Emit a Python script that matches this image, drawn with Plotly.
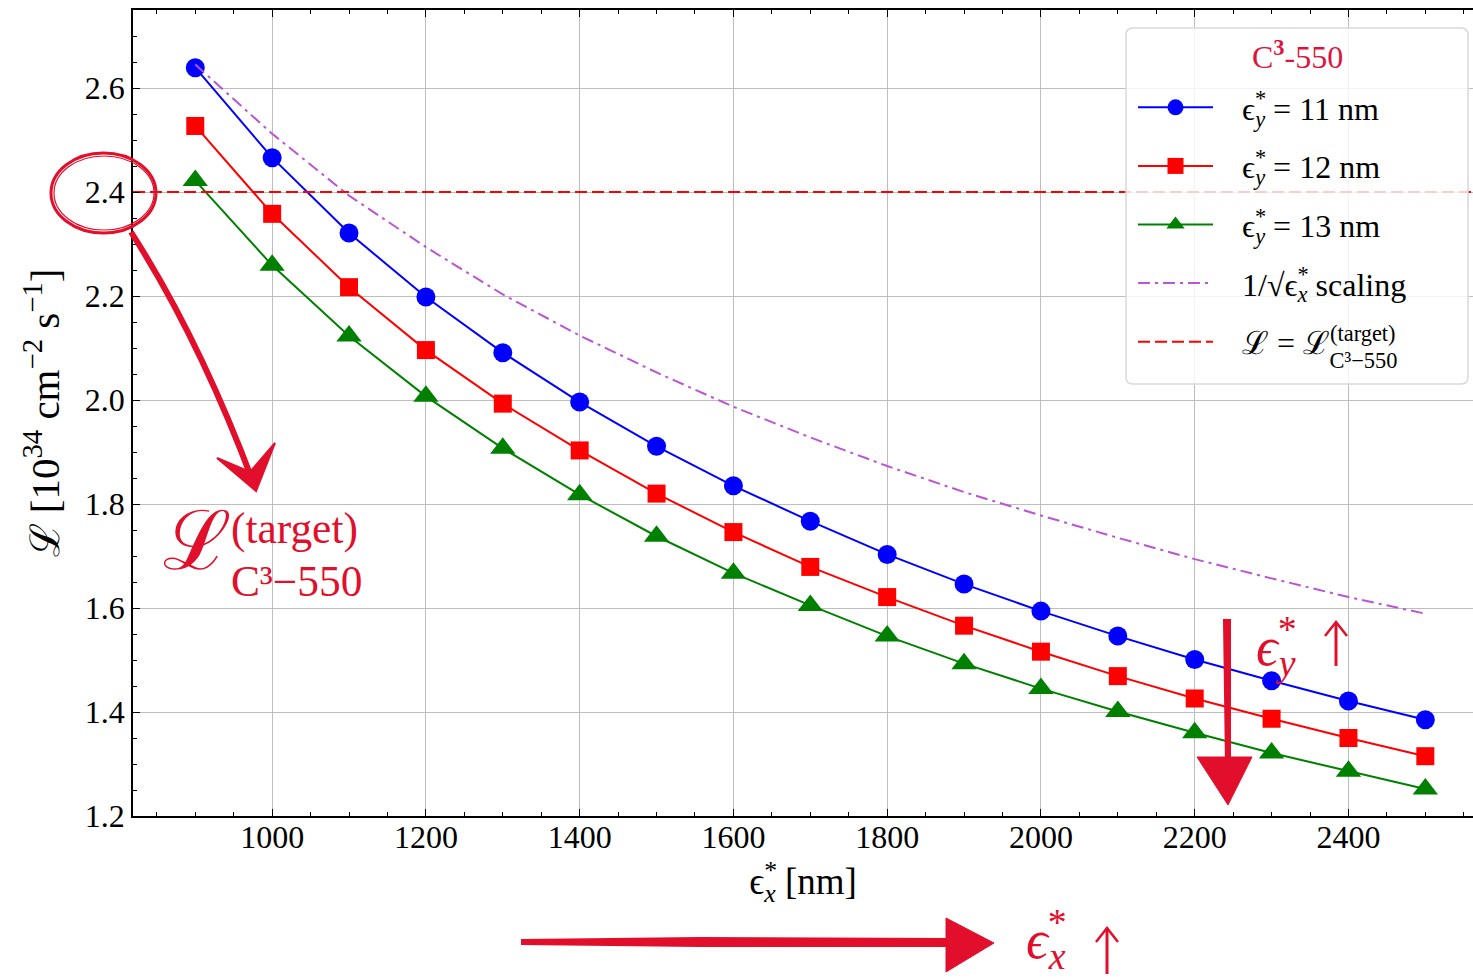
import plotly.graph_objects as go

# Horizontal emittance scan [nm]
EPS_X = [900, 1000, 1100, 1200, 1300, 1400, 1500, 1600, 1700,
         1800, 1900, 2000, 2100, 2200, 2300, 2400, 2500]

# Luminosity [1e34 cm^-2 s^-1] for three vertical emittances
LUMI_11 = [2.639, 2.466, 2.321, 2.198, 2.091, 1.996, 1.911, 1.835, 1.767,
           1.703, 1.646, 1.594, 1.546, 1.501, 1.460, 1.421, 1.385]
LUMI_12 = [2.527, 2.358, 2.217, 2.096, 1.993, 1.903, 1.820, 1.746, 1.679,
           1.621, 1.566, 1.516, 1.469, 1.426, 1.387, 1.350, 1.315]
LUMI_13 = [2.422, 2.259, 2.123, 2.007, 1.907, 1.818, 1.738, 1.667, 1.605,
           1.546, 1.493, 1.445, 1.401, 1.360, 1.321, 1.286, 1.252]

# Reference 1/sqrt(eps_x) trend
SCALING = [2.645, 2.512, 2.393, 2.294, 2.203, 2.124, 2.053, 1.987, 1.928,
           1.873, 1.823, 1.778, 1.735, 1.694, 1.657, 1.621, 1.589]

TARGET_LUMI = 2.4

X_TICKS = [1000, 1200, 1400, 1600, 1800, 2000, 2200, 2400]
Y_TICKS = [1.2, 1.4, 1.6, 1.8, 2.0, 2.2, 2.4, 2.6]
X_RANGE = [819, 2562]
Y_RANGE = [1.2, 2.75]

SERIF = "Liberation Serif"
INK = "#e10f2b"
W, H = 1473, 978
L, R, T, B = 133, 0, 10, 162
PAD = "\u00a0\u00a0\u00a0"


def px(x):
    return (x - L) / (W - L - R)


def py(y):
    return (H - B - y) / (H - B - T)


def path(points, close=False):
    s = "M " + " L ".join(f"{px(x):.5f},{py(y):.5f}" for x, y in points)
    return s + (" Z" if close else "")


def rounded_box(x0, y0, x1, y1, r):
    return (f"M {px(x0 + r):.5f},{py(y0):.5f} L {px(x1 - r):.5f},{py(y0):.5f} "
            f"Q {px(x1):.5f},{py(y0):.5f} {px(x1):.5f},{py(y0 + r):.5f} "
            f"L {px(x1):.5f},{py(y1 - r):.5f} "
            f"Q {px(x1):.5f},{py(y1):.5f} {px(x1 - r):.5f},{py(y1):.5f} "
            f"L {px(x0 + r):.5f},{py(y1):.5f} "
            f"Q {px(x0):.5f},{py(y1):.5f} {px(x0):.5f},{py(y1 - r):.5f} "
            f"L {px(x0):.5f},{py(y0 + r):.5f} "
            f"Q {px(x0):.5f},{py(y0):.5f} {px(x0 + r):.5f},{py(y0):.5f} Z")


def stacked(base, sup, sub, back, italic_sub=True, drop=0):
    """base with a superscript stacked over a subscript: the last superscript
    glyph gets a negative letter-spacing that walks the pen back to its start."""
    s = f"<i>{sub}</i>" if italic_sub else sub
    if drop:
        s = f"<span style='baseline-shift:-{drop}px'>{s}</span>"
    return (f"{base}<sup>{sup[:-1]}<span style='letter-spacing:-{back}px'>{sup[-1]}</span></sup>"
            f"<sub>{s}</sub>")


fig = go.Figure()

eps_y = stacked("ϵ", "*", "y", 11)
series = [
    (eps_y + " = 11 nm", LUMI_11, "#0000ff", "circle", 19),
    (eps_y + " = 12 nm", LUMI_12, "#ff0000", "square", 18),
    (eps_y + " = 13 nm", LUMI_13, "#008000", "triangle-up", 22),
]
for i, (name, vals, color, sym, size) in enumerate(series):
    fig.add_trace(go.Scatter(
        x=EPS_X, y=vals, name=PAD + name, mode="lines+markers",
        line=dict(color=color, width=2),
        marker=dict(symbol=sym, size=size, color=color, line=dict(width=0)),
        legendgroup=f"g{i}",
    ))

fig.add_trace(go.Scatter(
    x=EPS_X, y=SCALING, name=PAD + "1/√" + stacked("ϵ", "*", "x", 11) + " scaling",
    mode="lines", line=dict(color="#ba55d3", width=2, dash="12px,5px,3px,5px"),
    legendgroup="g3",
))
fig.add_trace(go.Scatter(
    x=X_RANGE, y=[TARGET_LUMI, TARGET_LUMI],
    name=PAD + "ℒ = " + stacked("ℒ", "(target)", "C³−550", 66, italic_sub=False, drop=7),
    mode="lines", line=dict(color="#ff0000", width=2, dash="12px,5px"),
    legendgroup="g4",
))

axis_common = dict(
    showline=True, linecolor="black", linewidth=1.5,
    ticks="inside", ticklen=7, tickwidth=1.2, tickcolor="black",
    showgrid=True, gridcolor="#bdbdbd", gridwidth=1,
    zeroline=False,
    tickfont=dict(family=SERIF, size=32, color="black"),
)

fig.update_xaxes(
    **axis_common, range=X_RANGE, tickvals=X_TICKS, mirror="ticks",
    ticklabelstandoff=-8,
    minor=dict(dtick=50, ticks="inside", ticklen=4, tickcolor="black", showgrid=False),
    title=dict(text=stacked("ϵ", "*", "x", 13) + " [nm]",
               font=dict(family=SERIF, size=37, color="black"), standoff=14),
)
fig.update_yaxes(
    **axis_common, range=Y_RANGE, tickvals=Y_TICKS, tickformat=".1f",
    minor=dict(dtick=0.05, ticks="inside", ticklen=4, tickcolor="black", showgrid=False),
    title=dict(text="ℒ [10<sup>34</sup> cm<sup>−2</sup> s<sup>−1</sup>]",
               font=dict(family=SERIF, size=41, color="black"), standoff=12),
)

shapes = []
# translucent legend frame
shapes.append(dict(type="path", xref="paper", yref="paper", layer="above",
                   path=rounded_box(1126, 28, 1468, 384, 7),
                   fillcolor="rgba(255,255,255,0.8)", line=dict(color="#d9d9d9", width=1.5)))
# ring around the target tick
shapes.append(dict(type="circle", xref="paper", yref="paper",
                   x0=px(51), x1=px(156), y0=py(233), y1=py(153),
                   line=dict(color=INK, width=3)))
shapes.append(dict(type="circle", xref="paper", yref="paper",
                   x0=px(54), x1=px(154), y0=py(230), y1=py(156),
                   line=dict(color=INK, width=1.2)))
# sweeping arrow from the tick to the label
shapes.append(dict(type="path", xref="paper", yref="paper",
                   path=(f"M {px(131):.5f},{py(232):.5f} "
                         f"Q {px(200):.5f},{py(340):.5f} {px(253):.5f},{py(482):.5f}"),
                   line=dict(color=INK, width=6)))
shapes.append(dict(type="path", xref="paper", yref="paper",
                   path=path([(217, 458), (256, 491), (275, 443), (250, 472)], close=True),
                   fillcolor=INK, line=dict(color=INK, width=2)))
# horizontal arrow under the x axis
shapes.append(dict(type="path", xref="paper", yref="paper",
                   path=path([(522, 940), (700, 938), (948, 939), (948, 946), (700, 946), (522, 944)], close=True),
                   fillcolor=INK, line=dict(color=INK, width=2)))
shapes.append(dict(type="path", xref="paper", yref="paper",
                   path=path([(946, 918), (994, 943), (946, 972)], close=True),
                   fillcolor=INK, line=dict(color=INK, width=1)))
# vertical arrow near the right side
shapes.append(dict(type="path", xref="paper", yref="paper",
                   path=path([(1224, 620), (1230, 620), (1230, 765), (1226, 765)], close=True),
                   fillcolor=INK, line=dict(color=INK, width=2)))
shapes.append(dict(type="path", xref="paper", yref="paper",
                   path=path([(1197, 757), (1252, 757), (1228, 805)], close=True),
                   fillcolor=INK, line=dict(color=INK, width=1)))
# upward arrows next to the emittance labels
for ax, top, bot in [(1107, 928, 974), (1336, 622, 666)]:
    shapes.append(dict(type="path", xref="paper", yref="paper",
                       path=path([(ax, bot), (ax, top + 2)]),
                       line=dict(color=INK, width=3)))
    shapes.append(dict(type="path", xref="paper", yref="paper",
                       path=path([(ax - 11, top + 14), (ax, top), (ax + 11, top + 14)]),
                       line=dict(color=INK, width=2.5)))


def note(text, x, y, size, color=INK, xanchor="center"):
    return dict(text=text, x=px(x), y=py(y), xref="paper", yref="paper",
                showarrow=False, xanchor=xanchor, yanchor="middle",
                font=dict(family=SERIF, size=size, color=color))


target_label = stacked("<span style='font-size:82px'>ℒ</span>", "(target)", "C³−550",
                       127, italic_sub=False, drop=14)

annotations = [
    note("C<sup><b>3</b></sup>-550", 1297, 55, 32, color="#dc143c"),
    note(target_label, 161, 550, 62, xanchor="left"),
    note(stacked("<i>ϵ</i>", "*", "x", 18), 1024, 939, 54, xanchor="left"),
    note(stacked("<i>ϵ</i>", "*", "y", 18), 1254, 646, 54, xanchor="left"),
]

fig.update_layout(
    width=W, height=H,
    margin=dict(l=L, r=R, t=T, b=B, autoexpand=False),
    plot_bgcolor="white", paper_bgcolor="white",
    font=dict(family=SERIF, size=32, color="black"),
    showlegend=True,
    legend=dict(
        x=px(1133), y=py(80), xanchor="left", yanchor="top",
        bgcolor="rgba(0,0,0,0)", borderwidth=0,
        font=dict(family=SERIF, size=32, color="black"),
        traceorder="grouped", tracegroupgap=14, itemwidth=75,
    ),
    shapes=shapes,
    annotations=annotations,
)

fig.write_html("out.html")
